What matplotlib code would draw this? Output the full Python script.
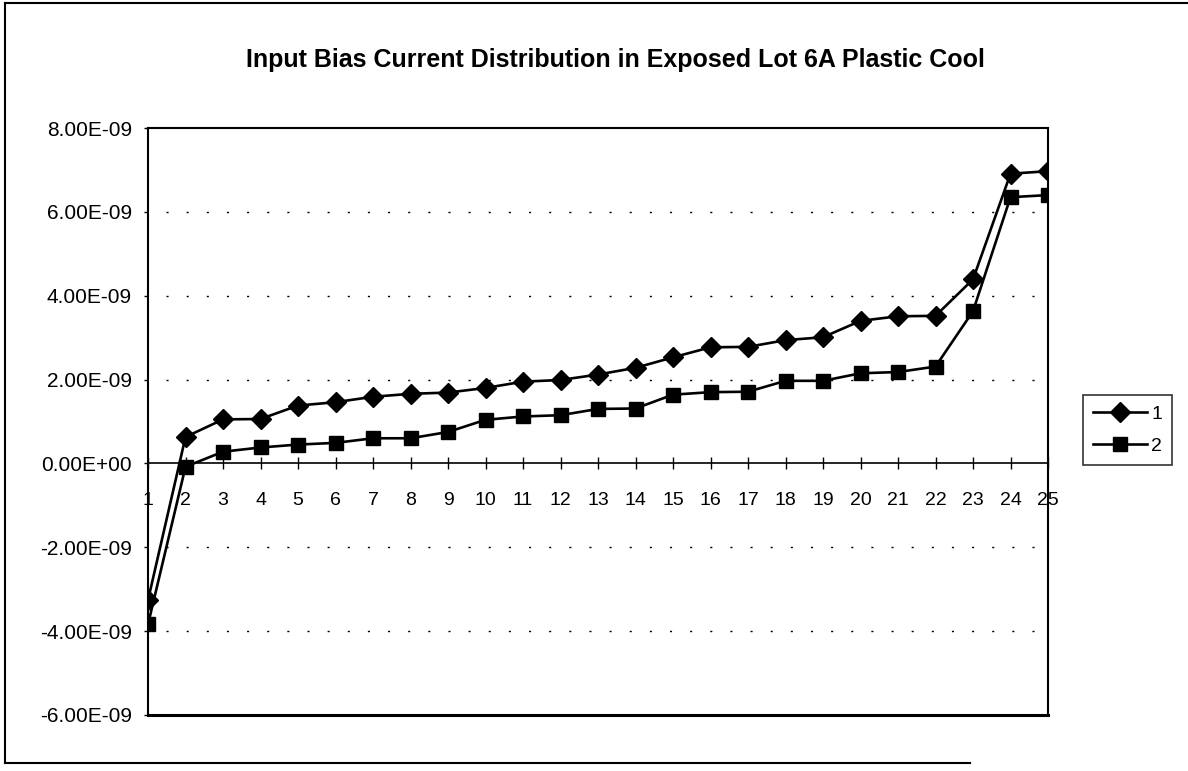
import matplotlib
matplotlib.use("Agg")
import matplotlib.pyplot as plt
from matplotlib.lines import Line2D
from matplotlib.ticker import FuncFormatter

plt.rcParams['font.family'] = ['Liberation Sans', 'DejaVu Sans']

categories = list(range(1, 26))
series_1 = [-3.26e-9, 0.63e-9, 1.05e-9, 1.06e-9, 1.38e-9, 1.46e-9, 1.59e-9, 1.66e-9,
            1.69e-9, 1.80e-9, 1.95e-9, 1.99e-9, 2.12e-9, 2.28e-9, 2.53e-9, 2.77e-9,
            2.78e-9, 2.94e-9, 3.01e-9, 3.40e-9, 3.51e-9, 3.52e-9, 4.39e-9, 6.91e-9,
            6.97e-9]
series_2 = [-3.84e-9, -0.08e-9, 0.28e-9, 0.38e-9, 0.45e-9, 0.49e-9, 0.60e-9, 0.60e-9,
            0.75e-9, 1.04e-9, 1.12e-9, 1.15e-9, 1.30e-9, 1.31e-9, 1.64e-9, 1.70e-9,
            1.71e-9, 1.97e-9, 1.97e-9, 2.15e-9, 2.18e-9, 2.31e-9, 3.63e-9, 6.35e-9,
            6.40e-9]
series_names = ["1", "2"]
y_ticks = [-6e-9, -4e-9, -2e-9, 0, 2e-9, 4e-9, 6e-9, 8e-9]
title = "Input Bias Current Distribution in Exposed Lot 6A Plastic Cool"

W, H = 1188, 771
fig = plt.figure(figsize=(W / 100, H / 100), dpi=100)
ax = fig.add_axes([148 / W, 1 - 715 / H, 900 / W, 587 / H])

# outer frame of the chart sheet (right side runs off the scan)
fig.add_artist(Line2D([5 / W, 1.0], [1 - 3 / H, 1 - 3 / H], transform=fig.transFigure,
                      color='black', lw=1.5))
fig.add_artist(Line2D([5 / W, 5 / W], [1 - 3 / H, 1 - 763 / H], transform=fig.transFigure,
                      color='black', lw=1.5))
fig.add_artist(Line2D([5 / W, 970 / W], [1 - 763 / H, 1 - 763 / H], transform=fig.transFigure,
                      color='black', lw=1.5))

ax.plot(categories, series_1, color='black', lw=1.9, marker='D', markersize=10.5,
        label=series_names[0])
ax.plot(categories, series_2, color='black', lw=1.9, marker='s', markersize=10,
        label=series_names[1])

ax.set_xlim(1, 25)
ax.set_ylim(-6e-9, 8e-9)
ax.set_yticks(y_ticks)
ax.yaxis.set_major_formatter(FuncFormatter(lambda v, p: f"{v:.2E}"))
ax.set_xticks(categories)
ax.set_xticklabels([str(c) for c in categories])

for v in y_ticks:
    if v not in (0, y_ticks[0], y_ticks[-1]):
        ax.axhline(v, xmin=0.02, xmax=0.985, color='black', lw=1.0,
                   linestyle=(0, (1.5, 13)), zorder=0)

# plot area box, category axis crosses at zero
for s in ['left', 'right', 'top']:
    ax.spines[s].set_linewidth(1.5)
ax.spines['bottom'].set_position(('data', 0))
ax.spines['bottom'].set_linewidth(1.2)
ax.axhline(ax.get_ylim()[0], color='black', lw=2.2, clip_on=False)

ax.tick_params(axis='x', direction='inout', length=8.5, width=1, pad=16, labelsize=14)
ax.tick_params(axis='y', direction='out', length=3, width=1, pad=8.5, labelsize=15)

fig.text(615 / W, 1 - 60 / H, title, ha='center', va='center', fontsize=18,
         fontweight='bold')

leg = ax.legend(loc='center left', bbox_to_anchor=(1083 / W, 1 - 430 / H),
                bbox_transform=fig.transFigure, frameon=True, fancybox=False,
                fontsize=14, handlelength=2.8, borderpad=0.5, labelspacing=0.75,
                handletextpad=0.2, borderaxespad=0)
leg.get_frame().set_edgecolor('black')
leg.get_frame().set_linewidth(1.2)

fig.savefig("out.png", dpi=100)
